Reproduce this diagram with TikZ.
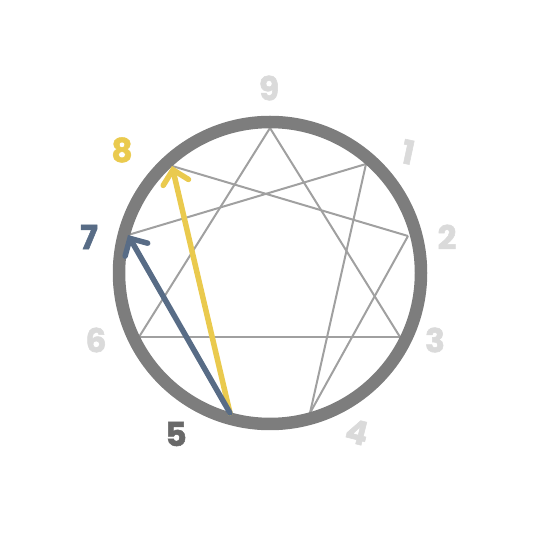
\documentclass[tikz,border=0pt]{standalone}
\usepackage{fontspec}
\setmainfont{Poppins}[BoldFeatures={FakeBold=1.6}]
\usetikzlibrary{arrows.meta}
\definecolor{ringgray}{RGB}{125,125,125}
\definecolor{linegray}{RGB}{160,160,160}
\definecolor{labelgray}{RGB}{218,218,218}
\definecolor{fivegray}{RGB}{105,105,105}
\definecolor{slate}{RGB}{88,108,134}
\definecolor{mustard}{RGB}{234,202,78}
\tikzset{
  num/.style={font=\fontsize{33}{33}\selectfont\bfseries, inner sep=0pt},
  hexline/.style={draw=linegray, line width=2pt},
  move/.style={line width=5.5pt, line cap=round, -{Straight Barb[length=13pt,width=26pt,line cap=round]}}
}
\begin{document}
\begin{tikzpicture}[x=1pt,y=1pt]
\useasboundingbox (0,0) rectangle (533,533);
\begin{scope}[shift={(270,260)}]
  \coordinate (P9) at (0,145);
  \coordinate (P1) at (96,109);
  \coordinate (P2) at (138,37);
  \coordinate (P3) at (130,-64);
  \coordinate (P4) at (40,-140);
  \coordinate (P5) at (-40,-140);
  \coordinate (P6) at (-131,-64);
  \coordinate (P7) at (-142,38);
  \coordinate (P8) at (-98,107);

  \node[num, text=labelgray] (L9) at (-1,185) {9};
  \node[num, text=labelgray, rotate=-12] (L1) at (138,121) {1};
  \node[num, text=labelgray] (L2) at (177,36) {2};
  \node[num, text=labelgray] (L3) at (165,-67) {3};
  \node[num, text=labelgray, rotate=-14] (L4) at (87,-159) {4};
  \node[num, text=fivegray] (L5) at (-94,-161) {5};
  \node[num, text=labelgray] (L6) at (-174,-67) {6};
  \node[num, text=slate] (L7) at (-181,36) {7};
  \node[num, text=mustard] (L8) at (-148,123) {8};

  \draw[hexline] (P9) -- (P3);
  \draw[hexline] (P9) -- (P6);
  \draw[hexline] (P6) -- (P3);
  \draw[hexline] (P1) -- (P4);
  \draw[hexline] (P4) -- (P2);
  \draw[hexline] (P2) -- (P8);
  \draw[hexline] (P7) -- (P1);

  \draw[ringgray, line width=12.5pt] (0,0) circle (151);

  \draw[move, mustard] (P5) -- (P8);
  \draw[move, slate] (P5) -- (P7);
\end{scope}
\end{tikzpicture}
\end{document}
